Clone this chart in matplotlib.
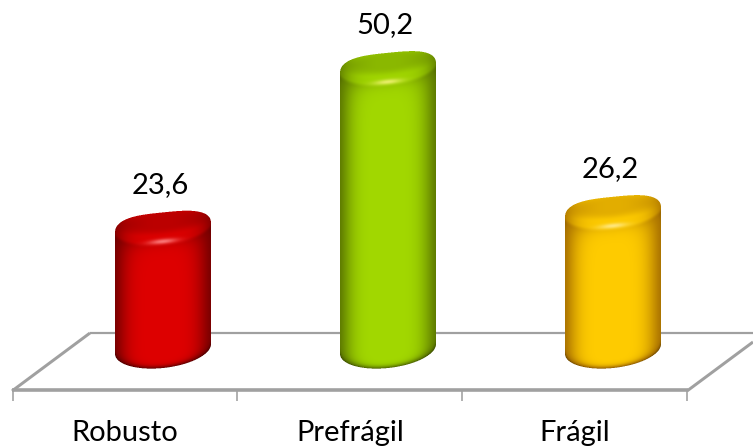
import numpy as np
import matplotlib
matplotlib.use("Agg")
import matplotlib.pyplot as plt

categories = ["Robusto", "Prefrágil", "Frágil"]
values = [23.6, 50.2, 26.2]
value_labels = ["23,6", "50,2", "26,2"]
bright = ["#de0000", "#a2d800", "#ffcc00"]
dark = ["#760000", "#5c7800", "#a87000"]
highlight = ["#ff8a8a", "#f4f27a", "#ffeb90"]

W, H = 753, 446
PX_PER_UNIT = 6.0
bar_bottom = 3.5
bar_width = 96 / 225
cap_b = 16
slant = -0.1

plt.rcParams["font.family"] = ["Lato", "DejaVu Sans"]

fig = plt.figure(figsize=(W / 100, H / 100), dpi=100)
ax = fig.add_axes([0, 0, 1, 1])
# x: one category is 225 px, first bar centred on px 163. y: zero sits at px 370
ax.set_xlim(-163 / 225, (W - 163) / 225)
ax.set_ylim((370 - H) / PX_PER_UNIT, 370 / PX_PER_UNIT)
ax.axis("off")


def px(x, y):
    return x / W, 1 - y / H


# floor of the 3d chart, in axes fractions
grey = "#a0a0a0"
for (x0, y0), (x1, y1), lw in [((12, 390), (688, 390), 3.6), ((90, 333), (W, 333), 2.2),
                              ((12, 391), (90, 333), 3.0), ((687, 391), (W, 342), 3.0),
                              ((13, 390), (13, 401), 1.6), ((237, 390), (237, 401), 1.6),
                              ((462, 390), (462, 401), 1.6), ((687, 390), (687, 401), 1.6)]:
    ax.plot(*zip(px(x0, y0), px(x1, y1)), transform=ax.transAxes, color=grey, lw=lw * 0.72,
            solid_capstyle="butt", zorder=1, clip_on=False)


def hex_rgb(c):
    return np.array(matplotlib.colors.to_rgb(c))


def smooth(a, b, v):
    t = np.clip((v - a) / (b - a), 0, 1)
    return t * t * (3 - 2 * t)


def cylinder(i, value):
    (x0, y_top) = ax.transData.transform((i - bar_width / 2, value))
    (x1, y_bot) = ax.transData.transform((i + bar_width / 2, bar_bottom))
    y_top, y_bot = H - y_top, H - y_bot
    cx = (x0 + x1) / 2
    a = (x1 - x0) / 2
    left, right = int(x0) - 2, int(x1) + 3
    up, low = int(y_top - cap_b - 12), int(y_bot + 26)
    ss = 3
    xs = (np.arange((right - left) * ss) + 0.5) / ss + left
    ys = (np.arange((low - up) * ss) + 0.5) / ss + up
    X, Y = np.meshgrid(xs, ys)
    u = (X - cx) / a
    # undo the tilt so the caps become plain ellipses
    Yt = Y - slant * (X - cx)
    cap_r = np.abs(u) ** 3.2 + np.abs((Yt - y_top) / cap_b) ** 2.5
    bot_r = u ** 2 + ((Yt - y_bot) / (cap_b + 3)) ** 2
    inside_body = (np.abs(u) <= 1) & (Yt >= y_top) & (Yt <= y_bot)
    mask = (cap_r <= 1) | inside_body | (bot_r <= 1)

    # side shading, a bit darker on the right edge
    uu = np.clip(u, -1, 1)
    side = 1 - 0.64 * np.where(uu < 0, np.abs(uu + 0.05) ** 2.6, np.abs(uu - 0.05) ** 2.4)
    # darker rim along the bottom edge
    front = y_bot + (cap_b + 3) * np.sqrt(np.clip(1 - uu ** 2, 0, 1))
    side = side * (1 - 0.7 * np.exp(-np.clip(front - Yt, 0, None) / 3.0))
    # soft band right under the cap
    cap_front = y_top + cap_b * np.sqrt(np.clip(1 - uu ** 2, 0, 1))
    side = side * (1 - 0.2 * np.exp(-np.clip(Yt - cap_front, 0, None) / 9))

    # cap: soft darker dish, brighter ring
    dish = ((X - cx) / (0.8 * a)) ** 2 + ((Yt - y_top + 7) / (0.7 * cap_b)) ** 2
    cap_shade = 0.93 - 0.18 * (1 - smooth(0.2, 1.8, dish))
    cap_shade = cap_shade * (1 - 0.45 * np.abs(uu) ** 3)
    # blend cap into the side instead of a hard edge
    blend = smooth(-3, 3, Yt - cap_front)[..., None]
    shade = cap_shade * (1 - blend[..., 0]) + side * blend[..., 0]

    c_b, c_d = hex_rgb(bright[i]), hex_rgb(dark[i])
    t = smooth(0.35, 1.0, shade)[..., None]
    rgb = c_d * (1 - t) + c_b * t
    rgb = rgb * np.clip(0.45 + 0.55 * shade / 0.45, 0, 1)[..., None]
    # specular spot on the front of the cap
    spot = np.exp(-(((X - cx) / 14) ** 2 + ((Yt - (y_top + cap_b - 3)) / 2.6) ** 2))
    rgb = rgb + (hex_rgb(highlight[i]) - rgb) * spot[..., None] * 0.85

    rgba = np.dstack([rgb * mask[..., None], mask.astype(float)])
    h, w = rgba.shape[:2]
    rgba = rgba.reshape(h // ss, ss, w // ss, ss, 4).mean(axis=(1, 3))
    alpha = rgba[..., 3:]
    rgba[..., :3] = rgba[..., :3] / np.maximum(alpha, 1e-6)
    ext0 = ax.transData.inverted().transform((left, H - low))
    ext1 = ax.transData.inverted().transform((right, H - up))
    ax.imshow(rgba, extent=(ext0[0], ext1[0], ext0[1], ext1[1]), origin="upper",
              aspect="auto", interpolation="nearest", zorder=3)


for i, v in enumerate(values):
    cylinder(i, v)

# imshow resets limits
ax.set_xlim(-163 / 225, (W - 163) / 225)
ax.set_ylim((370 - H) / PX_PER_UNIT, 370 / PX_PER_UNIT)

for i, v in enumerate(values):
    ax.text(i - 0.012, v + 7.3, value_labels[i], ha="center", va="center", fontsize=21,
            color="black", zorder=4)
    ax.text(i - 38 / 225, (370 - 433) / PX_PER_UNIT, categories[i], ha="center", va="center",
            fontsize=21, color="black", zorder=4)

fig.savefig("out.png", dpi=100, facecolor="white")
